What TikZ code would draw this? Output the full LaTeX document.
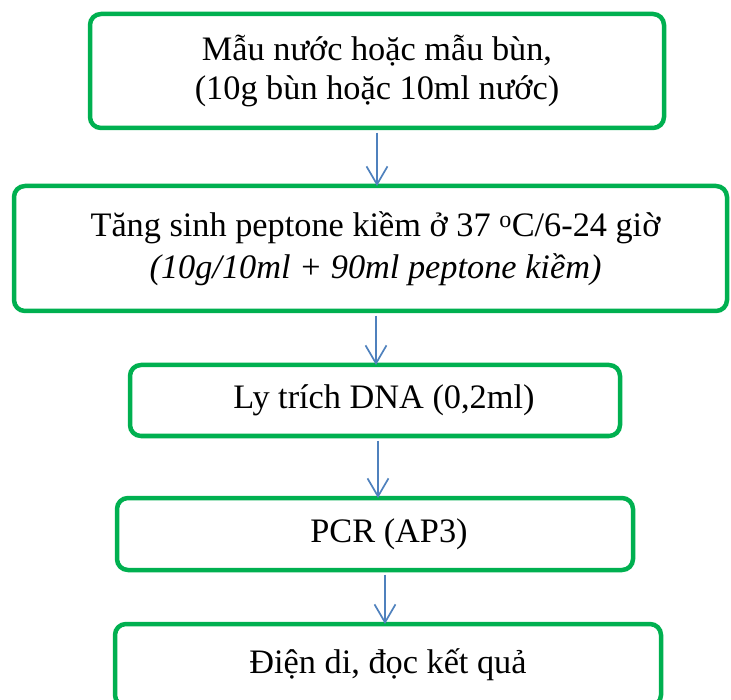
\documentclass[tikz,border=0pt]{standalone}
\usepackage{fontspec}
\setmainfont{Liberation Serif}
\usetikzlibrary{arrows.meta}
\definecolor{boxgreen}{HTML}{00B050}
\definecolor{arrowblue}{HTML}{4F81BD}
\begin{document}
\begin{tikzpicture}[x=1pt,y=-1pt,
  stepbox/.style={draw=boxgreen,line width=4.5pt,rounded corners=11pt,inner sep=0pt,align=center,
    font=\fontsize{34.3}{39}\selectfont},
  flowarrow/.style={draw=arrowblue,line width=1.7pt,-{Straight Barb[length=18pt,width=21pt,line width=1.7pt]}}]
\useasboundingbox (0,0) rectangle (731,700);
\node[stepbox,minimum width=574pt,minimum height=114pt] (b1) at (377,71)
  {Mẫu nước hoặc mẫu bùn,\\ (10g bùn hoặc 10ml nước)};
\node[stepbox,minimum width=713pt,minimum height=125pt,font=\fontsize{34.3}{42}\selectfont] (b2) at (370.5,248.5)
  {\hspace*{10pt}Tăng sinh peptone kiềm ở 37 \textsuperscript{o}C/6-24 giờ\\ \hspace*{10pt}\textit{(10g/10ml + 90ml peptone kiềm)}};
\node[stepbox,minimum width=490pt,minimum height=71pt] (b3) at (375,400.5)
  {\hspace*{18pt}Ly trích DNA (0,2ml)};
\node[stepbox,minimum width=516pt,minimum height=72pt] (b4) at (375,534)
  {\hspace*{28pt}PCR (AP3)};
\node[stepbox,minimum width=546pt,minimum height=82pt] (b5) at (388,665)
  {Điện di, đọc kết quả};
\draw[flowarrow] ([yshift=-2.3pt]377,0 |- b1.south) -- ([yshift=-2.3pt]377,0 |- b2.north);
\draw[flowarrow] ([yshift=-2.3pt]376,0 |- b2.south) -- ([yshift=-2.3pt]376,0 |- b3.north);
\draw[flowarrow] ([yshift=-2.3pt]378,0 |- b3.south) -- ([yshift=-2.3pt]378,0 |- b4.north);
\draw[flowarrow] ([yshift=-2.3pt]385,0 |- b4.south) -- ([yshift=-2.3pt]385,0 |- b5.north);
\end{tikzpicture}
\end{document}
